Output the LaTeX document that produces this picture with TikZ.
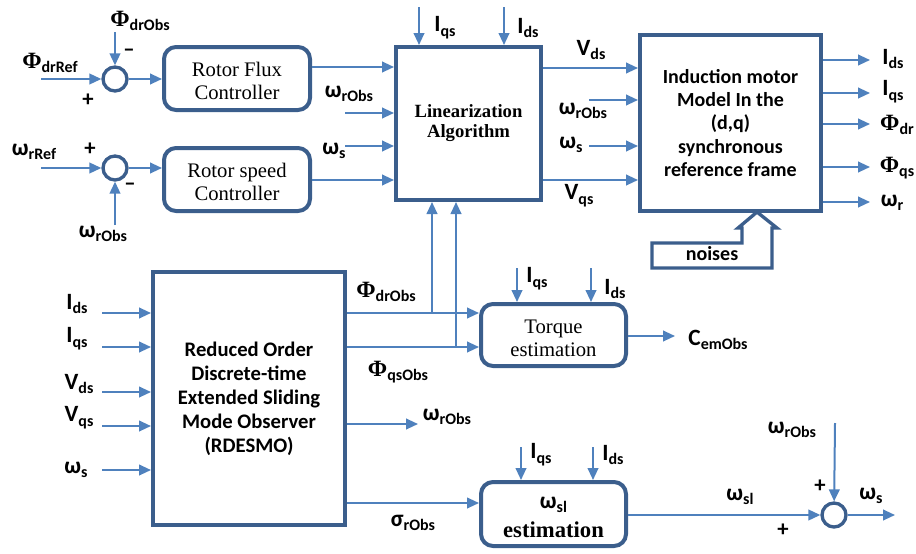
\documentclass[tikz,border=0pt]{standalone}
\usepackage{fontspec}
\setmainfont{Liberation Serif}
\newfontfamily\sansf{Carlito}
\usetikzlibrary{arrows.meta}
\definecolor{lblue}{RGB}{79,129,189}
\definecolor{dblue}{RGB}{59,94,140}
\newcommand\lb[2]{{\fontsize{17.5}{17.5}\selectfont #1}\raisebox{-3.5pt}{\fontsize{12}{12}\selectfont #2}}
\newcommand\Ph{{\rmfamily\bfseries Φ}}
\begin{document}
\begin{tikzpicture}[x=0.75pt,y=-0.75pt,
 arr/.style={draw=lblue, line width=1.5pt, -{Triangle[length=9pt,width=8pt]}},
 rbox/.style={draw=dblue, line width=3pt, rounded corners=9pt, fill=white, inner sep=0pt, align=center, font=\fontsize{15.5}{17.5}\selectfont},
 sbox/.style={draw=dblue, line width=3pt, fill=white, inner sep=0pt, align=center},
 sumc/.style={circle, draw=dblue, line width=2.5pt, minimum size=18pt, inner sep=0pt},
 lbl/.style={inner sep=0pt, font=\sansf\bfseries},
 sg/.style={inner sep=0pt, font=\sansf\bfseries\fontsize{17}{17}\selectfont}]
\useasboundingbox (0,0) rectangle (916,553);

% blocks
\node[sumc] (s1) at (115,79) {};
\node[sumc] (s2) at (115,168) {};
\node[sumc] (s3) at (834,515) {};
\node[rbox, minimum width=109.5pt, minimum height=47.25pt] (rfc) at (237,78.5) {\rule{0pt}{14pt}Rotor Flux\\Controller};
\node[rbox, minimum width=109.5pt, minimum height=47.25pt] (rsc) at (237,179.5) {\rule{0pt}{14pt}Rotor speed\\Controller};
\node[sbox, minimum width=108.75pt, minimum height=114.75pt, font=\bfseries\fontsize{14}{15}\selectfont] (lin) at (468.5,123.5) {Linearization\\Algorithm};
\node[sbox, minimum width=135.75pt, minimum height=132pt, font=\sansf\bfseries\fontsize{15}{17.5}\selectfont] (ind) at (730.5,123) {Induction motor\\Model In the\\(d,q)\\synchronous\\reference frame};
\node[sbox, minimum width=144pt, minimum height=189.75pt, font=\sansf\bfseries\fontsize{15.5}{18}\selectfont] (rdes) at (249,398.5) {Reduced Order\\Discrete-time\\Extended Sliding\\Mode Observer\\(RDESMO)};
\node[rbox, minimum width=108.75pt, minimum height=46.5pt] (tq) at (553.5,335) {\rule{0pt}{15pt}Torque\\estimation};
\node[rbox, minimum width=108.75pt, minimum height=48pt] (wsl) at (553.5,514) {};
\node[lbl] (wslt) at (553.5,505) {\lb{ω}{sl}};
\node[inner sep=0pt, font=\bfseries\fontsize{17}{19}\selectfont] (wsle) at (553.5,530) {estimation};

% noises block arrow
\draw[draw=dblue, line width=2.5pt, fill=white, line join=miter] (757,212) -- (777,228) -- (772,228) -- (772,268) -- (652,268) -- (652,243) -- (742,243) -- (742,228) -- (738,228) -- cycle;
\node[lbl, font=\sansf\bfseries\fontsize{15}{15}\selectfont] (noise) at (712,254) {noises};

% summing junction 1 & 2
\coordinate (pdr) at (41,79);
\coordinate (pdo) at (115,32);
\coordinate (wrr) at (41,168);
\coordinate (wro) at (115,225);
\draw[arr] (pdr) -- (s1);
\draw[arr] (pdo) -- (s1);
\draw[arr] (s1.east) -- (s1.east -| rfc.west);
\draw[arr] (wrr) -- (s2);
\draw[arr] (wro) -- (s2);
\draw[arr] (s2.east) -- (s2.east -| rsc.west);

% into linearization
\draw[arr] (rfc.east |- 0,67) -- (lin.west |- 0,67);
\draw[arr] (rsc.east |- 0,180) -- (lin.west |- 0,180);
\coordinate (lwr) at (345,113);
\coordinate (lws) at (345,146);
\draw[arr] (lwr) -- (lwr -| lin.west);
\draw[arr] (lws) -- (lws -| lin.west);
\coordinate (liq) at (419,7);
\coordinate (lid) at (504,7);
\draw[arr] (liq) -- (liq |- lin.north);
\draw[arr] (lid) -- (lid |- lin.north);

% into induction motor
\draw[arr] (lin.east |- 0,68) -- (ind.west |- 0,68);
\draw[arr] (lin.east |- 0,180) -- (ind.west |- 0,180);
\coordinate (iwr) at (589,100);
\coordinate (iws) at (589,146);
\draw[arr] (iwr) -- (iwr -| ind.west);
\draw[arr] (iws) -- (iws -| ind.west);

% induction motor outputs
\coordinate (o1) at (870,60);
\coordinate (o2) at (870,93);
\coordinate (o3) at (870,124);
\coordinate (o4) at (870,167);
\coordinate (o5) at (870,202);
\foreach \o in {o1,o2,o3,o4,o5} \draw[arr] (ind.east |- \o) -- (\o);

% observer inputs
\coordinate (r1) at (102,313);
\coordinate (r2) at (102,347);
\coordinate (r3) at (102,392);
\coordinate (r4) at (102,426);
\coordinate (r5) at (102,470);
\foreach \r in {r1,r2,r3,r4,r5} \draw[arr] (\r) -- (\r -| rdes.west);

% observer outputs
\draw[arr] (rdes.east |- 0,313) -- (tq.west |- 0,313);
\draw[arr] (rdes.east |- 0,347) -- (tq.west |- 0,347);
\coordinate (b1) at (432,313);
\coordinate (b2) at (456,347);
\draw[arr] (b1) -- (b1 |- lin.south);
\draw[arr] (b2) -- (b2 |- lin.south);
\coordinate (rwo) at (418,424);
\draw[arr] (rdes.east |- rwo) -- (rwo);
\draw[arr] (rdes.east |- 0,503) -- (wsl.west |- 0,503);

% torque estimation
\coordinate (tiq) at (517,268);
\coordinate (tid) at (591,268);
\draw[arr] (tiq) -- (tiq |- tq.north);
\draw[arr] (tid) -- (tid |- tq.north);
\coordinate (cem) at (675,336);
\draw[arr] (tq.east |- cem) -- (cem);

% slip estimation
\coordinate (wiq) at (521,447);
\coordinate (wid) at (593,447);
\draw[arr] (wiq) -- (wiq |- wsl.north);
\draw[arr] (wid) -- (wid |- wsl.north);
\draw[arr] (wsl.east |- s3) -- (s3);
\coordinate (s3in) at (835,423);
\draw[arr] (s3in) -- (s3);
\coordinate (s3o) at (895,515);
\draw[arr] (s3) -- (s3o);

% labels
\node[lbl] at (140,21) {\lb{\Ph}{drObs}};
\node[lbl] at (50,63) {\lb{\Ph}{drRef}};
\node[sg] at (88,100) {+};
\node[sg] at (129,53) {–};
\node[lbl] at (34,152) {\lb{ω}{rRef}};
\node[sg] at (90,149) {+};
\node[sg] at (130,187) {–};
\node[lbl] at (103,234) {\lb{ω}{rObs}};

\node[lbl] at (349,94) {\lb{ω}{rObs}};
\node[lbl] at (334,151) {\lb{ω}{s}};
\node[lbl] at (445,28) {\lb{I}{qs}};
\node[lbl] at (528,28) {\lb{I}{ds}};
\node[lbl] at (591,50) {\lb{V}{ds}};
\node[lbl] at (583,111) {\lb{ω}{rObs}};
\node[lbl] at (571,145) {\lb{ω}{s}};
\node[lbl] at (579,196) {\lb{V}{qs}};

\node[lbl] at (893,59) {\lb{I}{ds}};
\node[lbl] at (893,92) {\lb{I}{qs}};
\node[lbl] at (897,125) {\lb{\Ph}{dr}};
\node[lbl] at (897,168) {\lb{\Ph}{qs}};
\node[lbl] at (892,203) {\lb{ω}{r}};

\node[lbl] at (77,304) {\lb{I}{ds}};
\node[lbl] at (77,339) {\lb{I}{qs}};
\node[lbl] at (79,384) {\lb{V}{ds}};
\node[lbl] at (79,418) {\lb{V}{qs}};
\node[lbl] at (76,470) {\lb{ω}{s}};

\node[lbl] at (386,292) {\lb{\Ph}{drObs}};
\node[lbl] at (398,372) {\lb{\Ph}{qsObs}};
\node[lbl] at (447,417) {\lb{ω}{rObs}};
\node[lbl] at (413,523) {\lb{σ}{rObs}};

\node[lbl] at (537,279) {\lb{I}{qs}};
\node[lbl] at (615,289) {\lb{I}{ds}};
\node[lbl] at (718,340) {\lb{C}{emObs}};
\node[lbl] at (541,455) {\lb{I}{qs}};
\node[lbl] at (613,455) {\lb{I}{ds}};

\node[lbl] at (740,497) {\lb{ω}{sl}};
\node[sg] at (783,530) {+};
\node[sg] at (820,486) {+};
\node[lbl] at (792,430) {\lb{ω}{rObs}};
\node[lbl] at (871,496) {\lb{ω}{s}};
\end{tikzpicture}
\end{document}
